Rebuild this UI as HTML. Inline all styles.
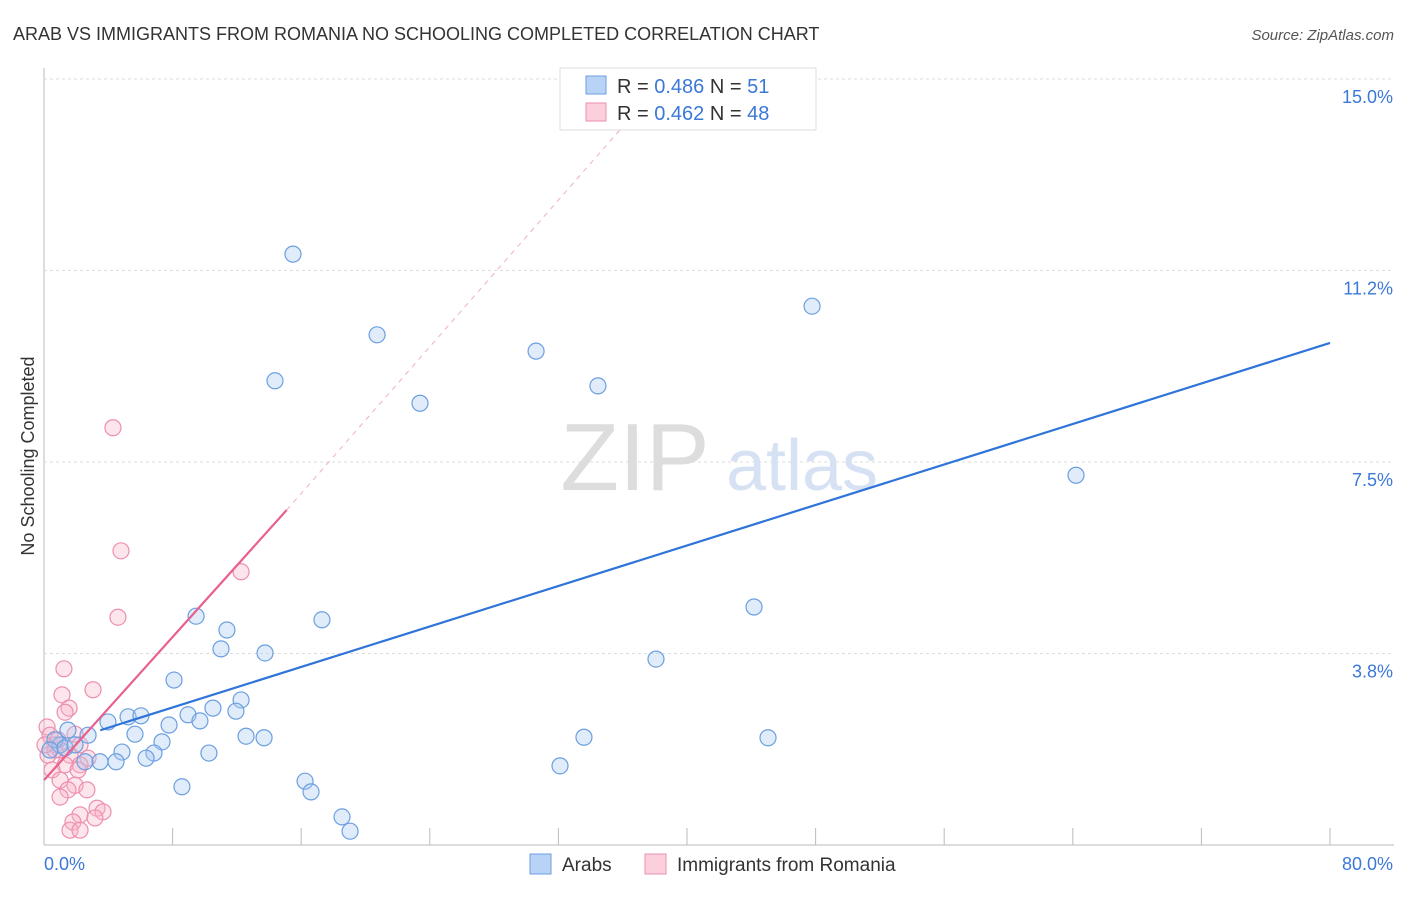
<!DOCTYPE html>
<html><head><meta charset="utf-8"><style>
body{margin:0;background:#fff;font-family:"Liberation Sans",sans-serif}
svg text{font-family:"Liberation Sans",sans-serif}
</style></head><body>
<svg id="c" width="1406" height="892">
<text x="13" y="40" font-size="18" fill="#333">ARAB VS IMMIGRANTS FROM ROMANIA NO SCHOOLING COMPLETED CORRELATION CHART</text>
<text x="1394" y="40" font-size="15" fill="#555" text-anchor="end" font-style="italic">Source: ZipAtlas.com</text>
<text x="34" y="456" font-size="18" fill="#333" text-anchor="middle" transform="rotate(-90 34 456)">No Schooling Completed</text>
<g id="grid"></g>
<g><text x="635" y="490" font-size="96" fill="#ddd" font-family="Liberation Serif" text-anchor="middle">ZIP</text><text x="802" y="490" font-size="72" fill="#d6e2f3" text-anchor="middle">atlas</text></g>
<g id="pts"></g>
<g id="lines"></g>
<g>
<rect x="560" y="68" width="256" height="62" fill="#fff" stroke="#ddd"/>
<rect x="586" y="76" width="20" height="18" fill="#b8d3f5" stroke="#6b9fe0"/>
<text x="617" y="93" font-size="20" fill="#333">R = <tspan fill="#3b78d8">0.486</tspan>   N = <tspan fill="#3b78d8">51</tspan></text>
<rect x="586" y="103" width="20" height="18" fill="#fbcfdc" stroke="#ec8fae"/>
<text x="617" y="120" font-size="20" fill="#333">R = <tspan fill="#3b78d8">0.462</tspan>   N = <tspan fill="#3b78d8">48</tspan></text>
</g>
<g>
<rect x="530" y="854" width="21" height="20" fill="#b8d3f5" stroke="#6b9fe0"/>
<text x="562" y="871" font-size="19" fill="#333">Arabs</text>
<rect x="645" y="854" width="21" height="20" fill="#fbcfdc" stroke="#ec8fae"/>
<text x="677" y="871" font-size="19" fill="#333">Immigrants from Romania</text>
</g>
</svg>
<script>
const blueX=[15.49,20.72,14.37,23.39,30.61,34.46,47.78,64.2,44.17,38.07,9.46,11.38,17.29,11.01,13.75,8.09,12.26,10.51,11.94,8.96,9.7,7.78,5.23,6.03,3.98,1.49,2.74,5.66,12.57,13.69,7.34,4.85,6.84,6.35,10.26,4.48,3.48,2.55,33.59,45.04,32.1,16.24,16.61,8.58,18.54,19.04,1.0,0.68,0.37,1.31,1.93];
const blueY=[11.57,9.99,9.09,8.65,9.67,8.99,10.55,7.24,4.66,3.64,4.48,4.21,4.41,3.84,3.76,3.23,2.84,2.68,2.62,2.55,2.43,2.35,2.51,2.53,2.41,2.25,2.15,2.17,2.13,2.1,2.02,1.82,1.8,1.7,1.8,1.63,1.63,1.63,2.11,2.1,1.55,1.25,1.04,1.14,0.55,0.27,1.96,2.06,1.86,1.9,1.96];
const pinkX=[4.29,4.79,12.26,4.6,1.24,3.05,1.12,1.56,1.31,0.19,0.37,1.93,2.24,0.68,1.0,0.25,1.62,2.74,2.24,1.31,0.5,2.12,1.0,1.93,2.67,1.49,1.0,3.3,3.67,2.24,3.17,1.8,1.62,2.24,0.68,0.06,0.87];
const pinkY=[8.17,5.76,5.35,4.46,3.45,3.04,2.94,2.68,2.6,2.31,2.15,2.17,1.96,1.96,1.86,1.76,1.76,1.7,1.57,1.57,1.47,1.47,1.27,1.17,1.08,1.08,0.94,0.72,0.65,0.59,0.53,0.45,0.29,0.29,1.86,1.96,2.06];
const yTicks=[3.75,7.5,11.25,15];
const yTickLabels=["3.8%","7.5%","11.2%","15.0%"];
const blueTrend=[0,80,1.9,9.83];
const pinkTrend=[0,15.1,36.1,1.27,6.56,14.1];
const NS="http://www.w3.org/2000/svg";
const sx=v=>44+v*16.075, sy=v=>845-v*51.07;
function mk(tag,attrs,parent){const e=document.createElementNS(NS,tag);for(const k in attrs)e.setAttribute(k,attrs[k]);parent.appendChild(e);return e;}
const grid=document.getElementById('grid');
let ax=mk('line',{x1:44,y1:68,x2:44,y2:845,stroke:'#bbb'},grid);


let bx=mk('line',{x1:44,y1:845,x2:1394,y2:845,stroke:'#bbb'},grid);


yTicks.forEach((t,i)=>{
 const g=mk('line',{x1:44,y1:sy(t),x2:1394,y2:sy(t),stroke:'#ddd','stroke-dasharray':'3,3'},grid);
 
 
 const tx=mk('text',{x:1393,y:sy(t)+24,'font-size':18,fill:'#3b78d8','text-anchor':'end'},grid);
 tx.textContent=yTickLabels[i];
 
 
});
for(let i=1;i<=10;i++){
 const tk=mk('line',{x1:sx(i*8),y1:828,x2:sx(i*8),y2:845,stroke:'#bbb'},grid);
 
 
}
const xl0=mk('text',{x:44,y:870,'font-size':18,fill:'#3b78d8'},grid);xl0.textContent='0.0%';


const xl1=mk('text',{x:1393,y:870,'font-size':18,fill:'#3b78d8','text-anchor':'end'},grid);xl1.textContent='80.0%';


const pts=document.getElementById('pts');
pinkX.forEach((x,i)=>{
 const c=mk('circle',{cx:sx(x),cy:sy(pinkY[i]),r:8,fill:'rgba(248,180,200,0.35)',stroke:'#ec8fae','stroke-width':1.2},pts);
 
 
});
blueX.forEach((x,i)=>{
 const c=mk('circle',{cx:sx(x),cy:sy(blueY[i]),r:8,fill:'rgba(170,200,240,0.35)',stroke:'#6b9fe0','stroke-width':1.2},pts);
 
 
});
const lines=document.getElementById('lines');
const bl=mk('line',{x1:sx(3.5),y1:sy(blueTrend[2]+(blueTrend[3]-blueTrend[2])*3.5/80),x2:sx(blueTrend[1]),y2:sy(blueTrend[3]),stroke:'#2f74d8','stroke-width':2.2},lines);


const pl=mk('line',{x1:sx(pinkTrend[0]),y1:sy(pinkTrend[3]),x2:sx(pinkTrend[1]),y2:sy(pinkTrend[4]),stroke:'#e8608e','stroke-width':2.2},lines);


const pd=mk('line',{x1:sx(pinkTrend[1]),y1:sy(pinkTrend[4]),x2:sx(pinkTrend[2]),y2:sy(pinkTrend[5]),stroke:'#eeb0c4','stroke-width':1,'stroke-dasharray':'5,5'},lines);


</script>
</body></html>
